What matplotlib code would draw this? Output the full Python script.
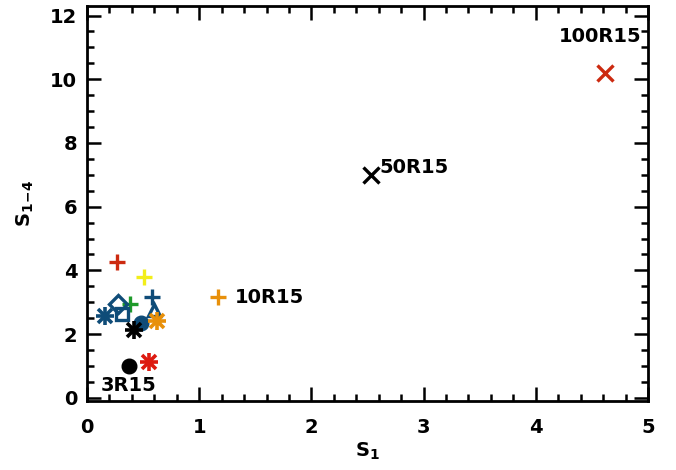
import matplotlib
matplotlib.use("Agg")
import matplotlib.pyplot as plt
from matplotlib.ticker import MultipleLocator

plt.rcParams['font.family'] = ['DejaVu Sans']
plt.rcParams['font.weight'] = 'bold'
plt.rcParams['mathtext.fontset'] = 'custom'
plt.rcParams['mathtext.rm'] = 'DejaVu Sans:bold'
plt.rcParams['mathtext.it'] = 'DejaVu Sans:bold'

# Data: (S1, S1-4)
x_vals = [4.62, 2.53, 1.17, 0.37, 0.27, 0.51, 0.38, 0.58, 0.28, 0.31, 0.16, 0.60, 0.48, 0.42, 0.62, 0.55]
y_vals = [10.2, 7.0, 3.15, 1.0, 4.25, 3.78, 2.95, 3.15, 2.95, 2.62, 2.58, 2.75, 2.35, 2.12, 2.42, 1.12]
markers = ['x', 'x', '+', 'o', '+', '+', '+', '+', 'D', 's', '*', '^', 'o', '*', '*', '*']
colors = ['#cc2a10', '#000000', '#e8900a', '#000000', '#cc2a10', '#f2ee1a', '#1e9a2a', '#0f4c78',
          '#0f4c78', '#0f4c78', '#0f4c78', '#0f4c78', '#0f4c78', '#000000', '#e8900a', '#dd1a10']
filled = [True, True, True, True, True, True, True, True, False, False, True, False, True, True, True, True]
labels = ['100R15', '50R15', '10R15', '3R15']

fig = plt.figure(figsize=(6.76, 4.70), dpi=100)
ax = fig.add_axes([87/676, 1 - 401/470, (648-87)/676, (401-6)/470])

for x, y, m, c, f in zip(x_vals, y_vals, markers, colors, filled):
    if m in ('x', '+'):
        ax.plot(x, y, marker=m, color=c, markersize=11, mew=2.4, linestyle='none')
    elif m == '*':
        ax.plot(x, y, marker='+', color=c, markersize=13, mew=2.6, linestyle='none')
        ax.plot(x, y, marker='x', color=c, markersize=10, mew=2.6, linestyle='none')
        ax.plot(x, y, marker='o', color=c, markersize=5, linestyle='none')
    elif f:
        ax.plot(x, y, marker=m, color=c, markersize=10.5, linestyle='none')
    else:
        ax.plot(x, y, marker=m, markerfacecolor='none', markeredgecolor=c, markersize=9,
                mew=2.4, linestyle='none')

# labels
ax.annotate(labels[0], (x_vals[0], y_vals[0]), xytext=(-4, 26), textcoords='offset points',
            ha='center', va='center', fontsize=14, fontweight='bold')
ax.annotate(labels[1], (x_vals[1], y_vals[1]), xytext=(6, 5), textcoords='offset points',
            ha='left', va='center', fontsize=14, fontweight='bold')
ax.annotate(labels[2], (x_vals[2], y_vals[2]), xytext=(12, 0), textcoords='offset points',
            ha='left', va='center', fontsize=14, fontweight='bold')
ax.annotate(labels[3], (x_vals[3], y_vals[3]), xytext=(0, -14), textcoords='offset points',
            ha='center', va='center', fontsize=14, fontweight='bold')

ax.set_xlim(0, 5)
ax.set_ylim(-0.1, 12.3)
ax.xaxis.set_major_locator(MultipleLocator(1))
ax.xaxis.set_minor_locator(MultipleLocator(0.2))
ax.yaxis.set_major_locator(MultipleLocator(2))
ax.yaxis.set_minor_locator(MultipleLocator(0.5))
ax.tick_params(which='both', direction='in', top=True, right=True, width=1.8, labelsize=14)
ax.tick_params(axis='x', pad=12)
ax.tick_params(axis='y', pad=7)
ax.tick_params(which='major', length=10)
ax.tick_params(which='minor', length=5)
for s in ax.spines.values():
    s.set_linewidth(2)
for lab in ax.get_xticklabels() + ax.get_yticklabels():
    lab.set_fontweight('bold')

ax.set_xlabel(r'S$_1$', fontsize=14, fontweight='bold', labelpad=3)
ax.set_ylabel(r'S$_{1\!-\!4}$', fontsize=14, fontweight='bold', labelpad=10)

fig.savefig('out.png', dpi=100)
